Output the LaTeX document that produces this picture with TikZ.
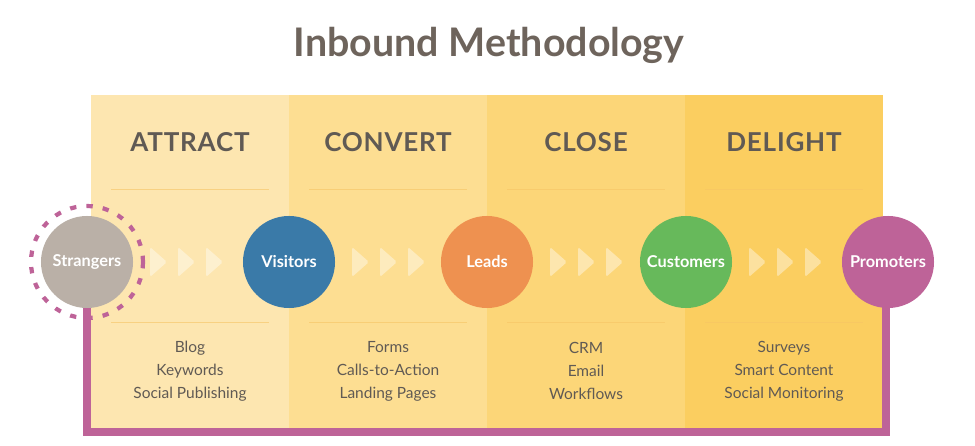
\documentclass[tikz,border=0pt]{standalone}
\usepackage{fontspec}
\setmainfont{Lato}
\definecolor{inkgray}{RGB}{96,90,84}
\definecolor{titlegray}{RGB}{110,100,92}
\definecolor{attractbg}{RGB}{253,230,176}
\definecolor{convertbg}{RGB}{253,222,146}
\definecolor{closebg}{RGB}{252,214,120}
\definecolor{delightbg}{RGB}{251,206,96}
\definecolor{rulecol}{RGB}{246,196,100}
\definecolor{strangercol}{RGB}{186,176,167}
\definecolor{visitorcol}{RGB}{58,122,168}
\definecolor{leadcol}{RGB}{238,145,80}
\definecolor{customercol}{RGB}{103,185,91}
\definecolor{promotercol}{RGB}{190,99,152}
\begin{document}
\begin{tikzpicture}[x=0.025cm,y=-0.025cm,
  stage/.style={circle,minimum size=2.3cm,inner sep=0pt,text=white,font=\bfseries\fontsize{11.6}{13}\selectfont},
  phase/.style={text=inkgray,font=\bfseries\fontsize{18.5}{22}\selectfont\addfontfeatures{LetterSpace=3}},
  tools/.style={align=center,text=inkgray,font=\fontsize{11}{16.4}\selectfont},
  sepline/.style={draw=rulecol,line width=0.6pt,opacity=0.6},
  chevron/.style={fill=white,fill opacity=0.4,rounded corners=1.2pt},
  loopline/.style={draw=promotercol,line width=6.2pt}]
  \useasboundingbox (0,0) rectangle (975,446);
  \node[text=titlegray,font=\bfseries\fontsize{28}{32}\selectfont] (title) at (489,45) {Inbound Methodology};
  \foreach \x/\c/\name/\items [count=\i] in {91/attractbg/ATTRACT/{Blog\\Keywords\\Social Publishing},
      289/convertbg/CONVERT/{Forms\\Calls-to-Action\\Landing Pages},
      487/closebg/CLOSE/{CRM\\Email\\Workflows},
      685/delightbg/DELIGHT/{Surveys\\Smart Content\\Social Monitoring}} {
    \fill[\c] (\x,95) rectangle (\x+198,430);
    \node[phase] (head\i) at (\x+99,142) {\name};
    \draw[sepline] (\x+20,189) -- (\x+178,189);
    \draw[sepline] (\x+20,322) -- (\x+178,322);
    \node[tools] (tools\i) at (\x+99,371) {\items};
  }
  \draw[loopline] (87,262) -- (87,432) -- (886,432) -- (886,262);
  \draw[promotercol,line width=3pt,dash pattern=on 4.5pt off 7.2pt] (87,262) circle (56);
  \node[stage,fill=strangercol] (strangers) at (87,262) {Strangers};
  \node[stage,fill=visitorcol] (visitors) at (289,262) {Visitors};
  \node[stage,fill=leadcol] (leads) at (487,262) {Leads};
  \node[stage,fill=customercol] (customers) at (686,262) {Customers};
  \node[stage,fill=promotercol] (promoters) at (888,262) {Promoters};
  \foreach \a in {strangers,visitors,leads,customers}
    \foreach \d in {63,91,119}
      \fill[chevron] ([shift={(\d,-15)}]\a.center) -- ++(17,15) -- ++(-17,15) -- cycle;
\end{tikzpicture}
\end{document}
